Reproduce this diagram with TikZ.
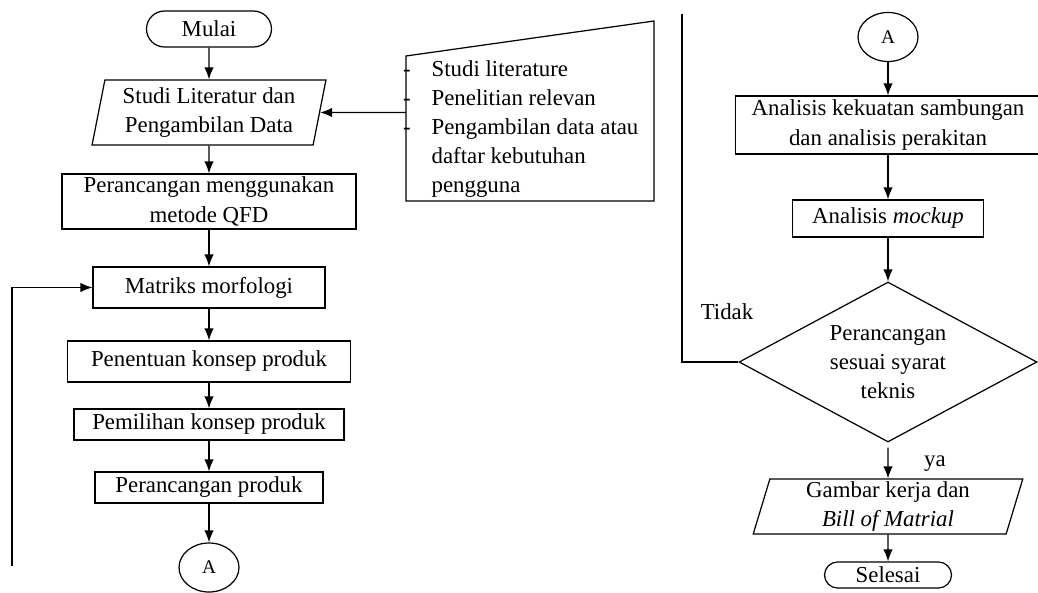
\documentclass[tikz,border=0pt]{standalone}
\usepackage{fontspec}
\setmainfont{Liberation Serif}
\usetikzlibrary{positioning,shapes.geometric,shapes.misc,arrows.meta}

\begin{document}
\begin{tikzpicture}[x=0.02cm, y=-0.02cm, line width=0.7pt,
  every node/.style={font=\fontsize{13}{16.6}\selectfont},
  box/.style={draw, rectangle, inner sep=0pt, align=center},
  term/.style={draw, rounded rectangle, inner sep=0pt},
  io/.style={draw, trapezium, trapezium left angle=78, trapezium right angle=102,
             trapezium stretches=true, inner sep=0pt, align=center},
  conn/.style={draw, ellipse, minimum width=1.2cm, minimum height=0.98cm,
               inner sep=0pt, font=\fontsize{11}{13}\selectfont},
  dec/.style={draw, diamond, aspect=1.86, minimum width=5.96cm,
              minimum height=3.2cm, inner sep=0pt, align=center},
  arr/.style={-{Latex[length=2.4mm,width=1.9mm]}}]
  \useasboundingbox (0,0) rectangle (1038,592);
  % Left column
  \node[term, minimum width=2.5cm, minimum height=0.72cm] (mulai) at (209,29) {Mulai};
  \node[io, minimum width=4.68cm, minimum height=1.3cm] (studi) at (209,112.5)
        {Studi Literatur dan\\Pengambilan Data};
  \node[box, minimum width=5.88cm, minimum height=1.1cm] (qfd) at (209,201.5)
        {Perancangan menggunakan\\metode QFD};
  \node[box, minimum width=4.64cm, minimum height=0.82cm] (matriks) at (209,287.5) {Matriks morfologi};
  \node[box, minimum width=5.66cm, minimum height=0.82cm] (penentuan) at (209,361.5) {Penentuan konsep produk};
  \node[box, minimum width=5.4cm, minimum height=0.62cm] (pemilihan) at (209,424.5) {Pemilihan konsep produk};
  \node[box, minimum width=4.56cm, minimum height=0.62cm] (produk) at (209,487.5) {Perancangan produk};
  \node[conn] (keA) at (209,567.5) {A};
  % Data input
  \coordinate (dtl) at (406,56);
  \coordinate (dtr) at (654,21);
  \coordinate (dbr) at (654,201);
  \coordinate (dbl) at (406,201);
  \draw (dtl) -- (dtr) -- (dbr) -- (dbl) -- cycle;
  \node[anchor=west, align=left, inner sep=0pt] (daftar) at (431,129)
        {\llap{-\hspace{0.42cm}}Studi literature\\
         \llap{-\hspace{0.42cm}}Penelitian relevan\\
         \llap{-\hspace{0.42cm}}Pengambilan data atau\\
         daftar kebutuhan\\
         pengguna};
  \coordinate (dIn) at (406,112.5);
  % Right column
  \node[conn] (keA2) at (888,37) {A};
  \node[box, minimum width=6.1cm, minimum height=1.16cm] (kekuatan) at (888,125)
        {Analisis kekuatan sambungan\\dan analisis perakitan};
  \node[box, minimum width=3.82cm, minimum height=0.74cm] (mockup) at (888,218.5) {Analisis \textit{mockup}};
  \node[dec] (cek) at (888,362) {Perancangan\\sesuai syarat\\teknis};
  \node[io, trapezium left angle=77, trapezium right angle=103,
        minimum width=5.4cm, minimum height=1.1cm] (gambar) at (888,506.5)
        {Gambar kerja dan\\\textit{Bill of Matrial}};
  \node[term, minimum width=2.54cm, minimum height=0.52cm] (selesai) at (888,575) {Selesai};
  \node (tidak) at (727,312) {Tidak};
  \node (ya) at (935,464) {ya};
  % Connectors
  \foreach \a/\b in {mulai/studi, studi/qfd, qfd/matriks, matriks/penentuan,
                     penentuan/pemilihan, pemilihan/produk, produk/keA,
                     keA2/kekuatan, kekuatan/mockup, mockup/cek, gambar/selesai}
    \draw[arr] (\a) -- (\b);
  \draw[arr, shorten <=0.1cm] (cek) -- (gambar);
  \draw[arr] (dIn) -- (studi);
  % Loop back
  \coordinate (loopT) at (682,14);
  \coordinate (loopB) at (12,566);
  \draw (cek) -| (loopT);
  \draw[arr] (loopB) |- (matriks);
\end{tikzpicture}
\end{document}
